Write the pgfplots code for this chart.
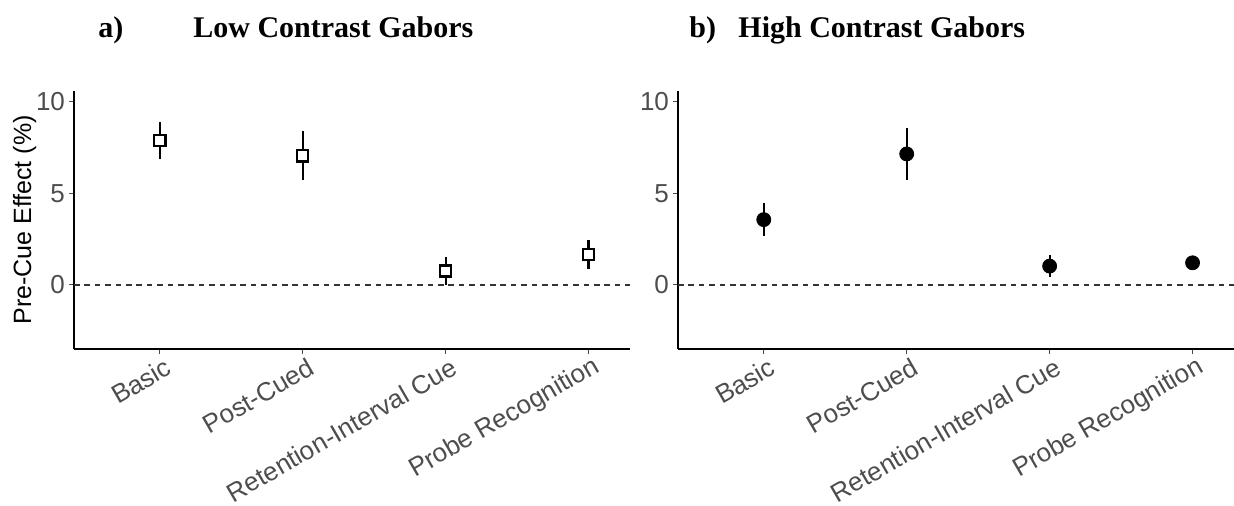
\documentclass[border=0pt]{standalone}
\usepackage{fontspec}
\setmainfont{Liberation Sans}
\newfontfamily\titlefont{Liberation Serif}
\usepackage{pgfplots}
\pgfplotsset{compat=1.18}
\definecolor{ticktext}{HTML}{4D4D4D}

\pgfplotsset{
  panel/.style={
    scale only axis,
    width=278pt, height=129pt,
    xmin=0.4, xmax=4.29,
    ymin=-3.5, ymax=10.6,
    axis x line*=bottom, axis y line*=left,
    axis line style={line width=1.1pt, black},
    xtick={1,2,3,4},
    xticklabels={Basic,Post-Cued,Retention-Interval Cue,Probe Recognition},
    ytick={0,5,10},
    /pgf/number format/assume math mode=true,
    tick align=outside,
    major tick length=2.5pt,
    tick style={line width=0.5pt, ticktext},
    every tick label/.append style={font=\fontsize{13}{15}\selectfont, text=ticktext},
    yticklabel style={xshift=1.5pt},
    xticklabel style={rotate=30, anchor=east, xshift=4.5pt, yshift=-7pt},
    clip=false,
  },
  errbar/.style={
    error bars/.cd, y dir=both, y explicit, error mark=none,
    error bar style={line width=1.1pt, black},
  },
}

\begin{document}
\begin{tikzpicture}
\useasboundingbox (0,0) rectangle (617pt,253pt);

% panel titles
\node[anchor=base west, inner sep=0] at (49pt,234pt) {\titlefont\bfseries\fontsize{15}{18}\selectfont a)};
\node[anchor=base west, inner sep=0] at (96.5pt,234pt) {\titlefont\bfseries\fontsize{15}{18}\selectfont Low Contrast Gabors};
\node[anchor=base west, inner sep=0] at (344.5pt,234pt) {\titlefont\bfseries\fontsize{15}{18}\selectfont b)};
\node[anchor=base west, inner sep=0] at (369pt,234pt) {\titlefont\bfseries\fontsize{15}{18}\selectfont High Contrast Gabors};

% a) low contrast
\begin{axis}[panel, at={(37pt,78.5pt)}, anchor=south west,
  ylabel={Pre-Cue Effect (\%)},
  ylabel style={font=\fontsize{12.5}{14}\selectfont, text=black, yshift=-7pt}]
  \addplot[black!80, line width=0.6pt, dash pattern=on 2.8pt off 2.4pt, forget plot]
    coordinates {(0.4,0) (4.29,0)};
  \addplot[only marks, mark=square*, mark size=2.8pt,
           mark options={fill=white, draw=black, line width=1.2pt}, errbar]
    coordinates {
      (1,7.89) +- (0,0.99)
      (2,7.06) +- (0,1.35)
      (3,0.76) +- (0,0.77)
      (4,1.67) +- (0,0.80)
    };
\end{axis}

% b) high contrast
\begin{axis}[panel, at={(339pt,78.5pt)}, anchor=south west]
  \addplot[black!80, line width=0.6pt, dash pattern=on 2.8pt off 2.4pt, forget plot]
    coordinates {(0.4,0) (4.29,0)};
  \addplot[only marks, mark=*, mark size=3.5pt,
           mark options={fill=black, draw=black}, errbar]
    coordinates {
      (1,3.57) +- (0,0.91)
      (2,7.16) +- (0,1.44)
      (3,1.03) +- (0,0.58)
      (4,1.21) +- (0,0.25)
    };
\end{axis}
\end{tikzpicture}
\end{document}
